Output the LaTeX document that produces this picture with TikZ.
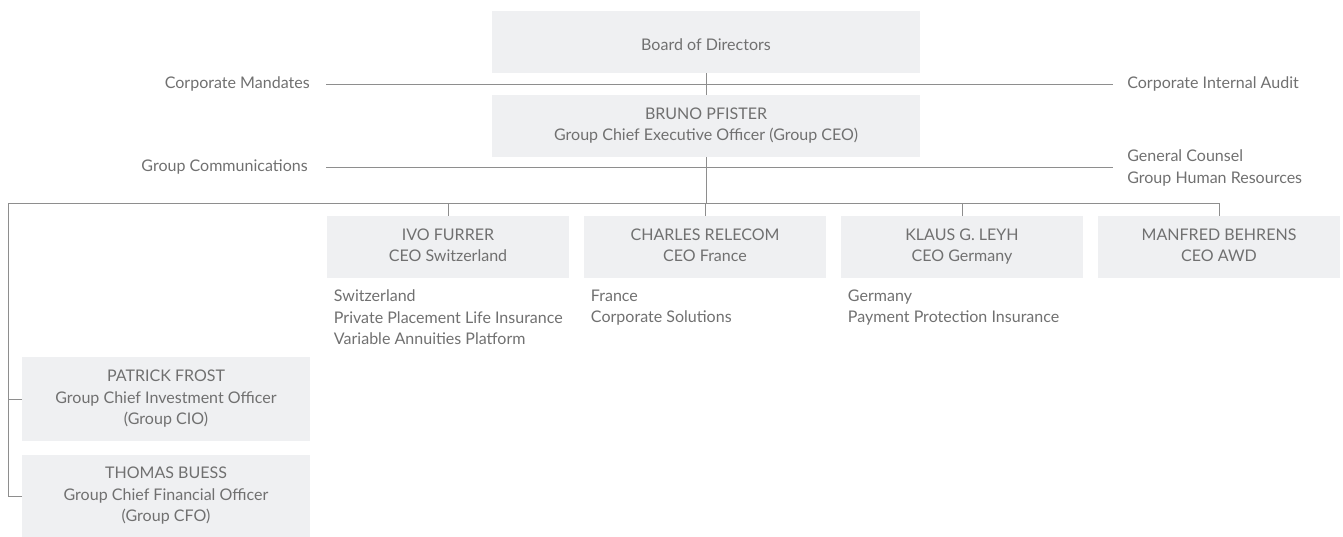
\documentclass[tikz,border=0pt]{standalone}
\usepackage{fontspec}
\setmainfont{Lato}
\usepackage{xcolor}
\usetikzlibrary{positioning}
\definecolor{boxgray}{HTML}{EFF0F2}
\definecolor{linegray}{HTML}{8E8E8E}
\definecolor{textgray}{HTML}{707070}

\begin{document}
\begin{tikzpicture}[x=0.025cm,y=-0.025cm,
        every node/.style={font=\fontsize{11.4}{15.5}\selectfont,text=textgray},
        unit/.style={fill=boxgray,inner sep=0pt,align=center,minimum width=6.05cm,minimum height=1.55cm,
          execute at begin node=\rule{0pt}{14.5pt},execute at end node=\rule[-2.5pt]{0pt}{2.5pt}},
        top unit/.style={unit,minimum width=10.7cm},
        staff/.style={unit,minimum width=7.175cm},
        side/.style={inner sep=0pt,align=left},
        areas/.style={inner sep=0pt,align=left,anchor=north west},
        link/.style={draw=linegray,line width=0.7pt}]

  \useasboundingbox (0,0) rectangle (1343,537);

  % board and CEO
  \node[top unit] (board) at (706,42) {Board of Directors};
  \node[top unit] (ceo)   at (706,126) {BRUNO PFISTER\\Group Chief Executive Officer (Group CEO)};

  % staff functions
  \node[side,anchor=east] (mandates) at (310,84)   {Corporate Mandates};
  \node[side,anchor=west] (audit)    at (1127,84)  {Corporate Internal Audit};
  \node[side,anchor=east] (comms)    at (308,167)  {Group Communications};
  \node[side,anchor=west] (counsel)  at (1127,168) {General Counsel\\Group Human Resources};

  % business units
  \node[unit] (ivo)     at (448,247)  {IVO FURRER\\CEO Switzerland};
  \node[unit] (charles) at (705,247)  {CHARLES RELECOM\\CEO France};
  \node[unit] (klaus)   at (962,247)  {KLAUS G. LEYH\\CEO Germany};
  \node[unit] (manfred) at (1219,247) {MANFRED BEHRENS\\CEO AWD};

  \node[areas] (ivoareas)     at ([xshift=7*0.025cm,yshift=-11*0.025cm]ivo.south west)
      {Switzerland\\Private Placement Life Insurance\\Variable Annuities Platform};
  \node[areas] (charlesareas) at ([xshift=7*0.025cm,yshift=-11*0.025cm]charles.south west)
      {France\\Corporate Solutions};
  \node[areas] (klausareas)   at ([xshift=7*0.025cm,yshift=-11*0.025cm]klaus.south west)
      {Germany\\Payment Protection Insurance};

  % CIO and CFO
  \node[staff,minimum height=2.1cm]   (patrick) at (166,399)
      {PATRICK FROST\\Group Chief Investment Officer\\(Group CIO)};
  \node[staff,minimum height=2.025cm] (thomas)  at (166,496)
      {THOMAS BUESS\\Group Chief Financial Officer\\(Group CFO)};

  \coordinate (bus) at (8,203);

  % lines
  \draw[link] (board) -- (ceo);
  \draw[link,shorten <=16*0.025cm,shorten >=14*0.025cm] (mandates.east) -- (audit.west);
  \draw[link,shorten <=18*0.025cm,shorten >=14*0.025cm] (comms.east) -- (comms.east -| counsel.west);
  \draw[link] (ceo.south) -- (ceo.south |- bus);
  \draw[link] (thomas.west) -| (bus) -| (manfred.north);
  \draw[link] (patrick.west) -- (patrick.west -| bus);
  \foreach \n in {ivo,charles,klaus}
    \draw[link] (\n.north) -- (\n.north |- bus);
\end{tikzpicture}
\end{document}
